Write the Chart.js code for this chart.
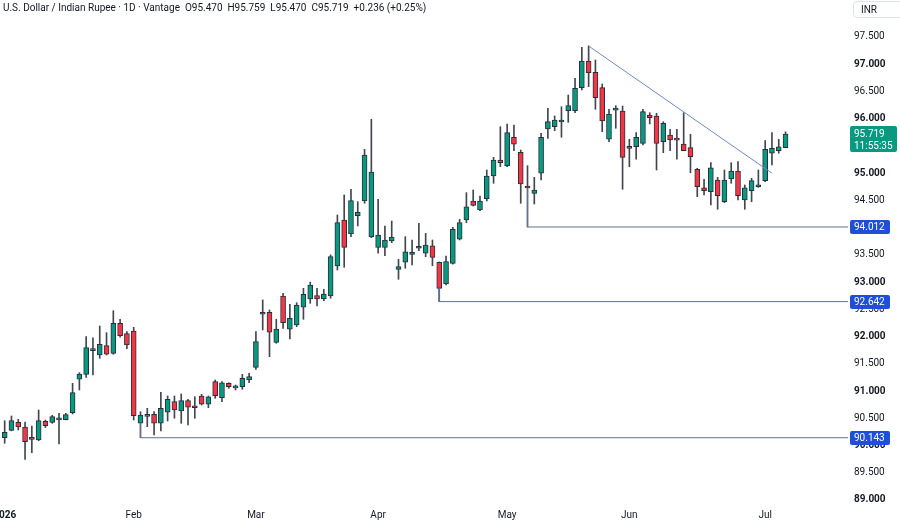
<!DOCTYPE html>
<html>
<head>
<meta charset="utf-8">
<title>USD/INR</title>
<script src="https://cdn.jsdelivr.net/npm/chart.js@4.4.0/dist/chart.umd.min.js"></script>
<style>
  html, body { margin: 0; padding: 0; background: #fff; }
  #wrap { position: relative; width: 900px; height: 522px; overflow: hidden; font-family: Roboto, "Noto Sans", sans-serif; }
  #hdr { position: absolute; left: 3px; top: 2px; font-size: 10px; color: #131722; white-space: pre; }
  #inr { position: absolute; left: 853px; top: 1px; width: 50px; height: 17px; border: 1px solid #e0e3eb; border-radius: 4px;
         box-sizing: border-box; font-size: 10px; line-height: 15px; padding-left: 7px; color: #131722; }
</style>
</head>
<body>
<div id="wrap">
  <canvas id="chart" width="900" height="522"></canvas>
  <div id="hdr">U.S. Dollar / Indian Rupee · 1D · Vantage  O95.470  H95.759  L95.470  C95.719  +0.236 (+0.25%)</div>
  <div id="inr">INR</div>
</div>
<script>
// daily candles (bar index 0 = first visible day)
const opens = [
  90.144, 90.279, 90.426, 90.340, 90.120, 90.101, 90.445, 90.426, 90.470, 90.474,
  90.603, 91.216, 91.307, 91.741, 91.662, 91.833, 91.693, 92.244, 92.053, 92.102,
  90.408, 90.535, 90.573, 90.408, 90.610, 90.805, 90.634, 90.823, 90.700, 90.909,
  90.757, 91.172, 90.878, 91.142, 91.058, 91.080, 91.203, 91.436, 92.410, 92.446,
  91.895, 92.745, 92.134, 92.213, 92.538, 92.690, 92.751, 92.690, 92.745, 93.296,
  94.140, 93.883, 94.219, 94.489, 93.828, 93.639, 93.639, 93.755, 93.235, 93.364,
  93.508, 93.621, 93.529, 93.668, 93.364, 92.965, 93.345, 93.786, 94.140, 94.489,
  94.324, 94.531, 94.948, 95.242, 95.137, 95.659, 95.383, 94.738, 94.630, 94.998,
  95.811, 95.853, 95.940, 96.147, 96.147, 96.569, 97.059, 96.852, 96.569, 95.622,
  96.157, 96.141, 95.455, 95.486, 95.548, 96.068, 96.050, 95.578, 95.701, 95.612,
  95.536, 95.468, 95.071, 94.733, 94.660, 94.875, 94.476, 94.893, 95.040, 94.508,
  94.678, 94.750, 94.862, 95.365, 95.413, 95.470
];
const highs = [
  90.456, 90.542, 90.481, 90.432, 90.358, 90.652, 90.468, 90.555, 90.591, 90.591,
  91.142, 91.337, 91.998, 91.979, 92.194, 92.071, 92.475, 92.317, 92.090, 92.170,
  90.621, 90.683, 90.621, 90.977, 90.909, 90.909, 90.946, 90.849, 90.896, 90.940,
  90.909, 91.203, 91.172, 91.153, 91.111, 91.307, 91.326, 92.090, 92.672, 92.488,
  92.317, 92.795, 92.593, 92.622, 92.886, 93.000, 92.886, 92.868, 93.500, 94.232,
  94.599, 94.704, 94.476, 95.438, 95.989, 94.520, 94.030, 94.122, 93.419, 93.834,
  93.773, 94.080, 93.896, 93.773, 93.370, 93.479, 94.006, 94.153, 94.642, 94.691,
  94.581, 95.058, 95.291, 95.853, 95.903, 95.884, 95.425, 95.137, 94.924, 95.732,
  96.191, 96.050, 96.220, 96.435, 96.742, 97.311, 97.335, 97.078, 96.637, 96.173,
  96.239, 96.233, 95.622, 95.743, 96.173, 96.110, 96.099, 95.945, 95.805, 95.805,
  96.110, 95.714, 95.090, 94.888, 95.192, 94.924, 95.058, 95.192, 95.211, 94.783,
  94.906, 95.058, 95.596, 95.743, 95.622, 95.759
];
const lows = [
  90.041, 90.270, 90.285, 89.747, 89.868, 90.088, 90.330, 90.408, 90.028, 90.470,
  90.578, 91.019, 91.252, 91.295, 91.601, 91.662, 91.675, 91.987, 91.778, 90.468,
  90.143, 90.346, 90.193, 90.267, 90.450, 90.500, 90.408, 90.377, 90.500, 90.744,
  90.694, 90.867, 90.805, 91.050, 91.019, 91.032, 91.153, 91.399, 92.121, 91.631,
  91.877, 92.152, 91.956, 92.182, 92.317, 92.611, 92.561, 92.659, 92.703, 93.222,
  93.272, 93.834, 94.030, 94.447, 93.816, 93.529, 93.485, 93.724, 93.052, 93.254,
  93.314, 93.577, 93.467, 93.300, 92.642, 92.947, 93.330, 93.773, 94.091, 94.397,
  94.311, 94.489, 94.814, 95.119, 95.119, 95.413, 94.447, 94.012, 94.434, 94.875,
  95.640, 95.780, 95.659, 95.934, 96.110, 96.527, 96.588, 96.173, 95.761, 95.578,
  95.824, 94.704, 95.119, 95.255, 95.517, 95.903, 95.058, 95.376, 95.413, 95.255,
  95.413, 95.009, 94.568, 94.599, 94.416, 94.337, 94.458, 94.814, 94.508, 94.337,
  94.476, 94.740, 94.843, 95.150, 95.365, 95.470
];
const closes = [
  90.243, 90.456, 90.340, 90.070, 90.114, 90.456, 90.364, 90.529, 90.478, 90.566,
  90.970, 91.313, 91.796, 91.772, 91.858, 91.675, 92.244, 92.016, 91.845, 90.547,
  90.560, 90.542, 90.408, 90.683, 90.849, 90.652, 90.823, 90.702, 90.694, 90.757,
  90.896, 90.915, 91.153, 91.080, 91.064, 91.234, 91.264, 91.906, 92.418, 92.079,
  92.139, 92.255, 92.336, 92.580, 92.776, 92.947, 92.690, 92.782, 93.467, 94.091,
  93.639, 94.495, 94.282, 95.334, 95.022, 93.865, 93.773, 93.828, 93.283, 93.558,
  93.514, 93.639, 93.681, 93.455, 92.886, 93.375, 93.970, 94.091, 94.384, 94.410,
  94.489, 94.948, 95.242, 95.193, 95.743, 95.530, 94.801, 94.728, 94.691, 95.659,
  95.945, 95.976, 95.948, 96.239, 96.558, 97.059, 96.845, 96.386, 95.958, 96.086,
  96.163, 95.291, 95.460, 95.659, 96.129, 96.018, 95.548, 95.916, 95.609, 95.606,
  95.413, 95.302, 94.752, 94.678, 95.100, 94.586, 94.875, 95.040, 94.586, 94.733,
  94.862, 94.755, 95.438, 95.457, 95.483, 95.719
];

// time axis labels (bar index of first day of each month)
const monthTickIdx = [0, 19, 37, 55, 74, 92, 112];
const monthTickText = ['2026', 'Feb', 'Mar', 'Apr', 'May', 'Jun', 'Jul'];

// price axis labels
const priceTicks = [89.0, 89.5, 90.0, 90.5, 91.0, 91.5, 92.0, 92.5, 93.0, 93.5, 94.0, 94.5, 95.0, 95.5, 96.0, 96.5, 97.0, 97.5];

// horizontal rays drawn from a candle: bar index, body end, level
const rayBars = [20, 64, 77];
const rayStart = [90.408, 92.886, 94.728];
const rayLevels = [90.143, 92.642, 94.012];

// trend line from the May top
const trendBars = [86, 113];
const trendPrices = [97.335, 95.0];

const lastPrice = 95.719;
const countdown = '11:55:35';

const X_MIN = -0.69, X_MAX = 124.2;
const UP = '#089981', DOWN = '#f23645';

const wickData = highs.map((h, i) => ({ x: i, y: [lows[i], h] }));
const bodyData = opens.map((o, i) => ({ x: i, y: [o, closes[i]] }));
const isUp = opens.map((o, i) => closes[i] >= o);

const datasets = [
  {
    type: 'bar', data: wickData, backgroundColor: '#434651',
    barThickness: 1, grouped: false, order: 3
  },
  {
    type: 'bar', data: bodyData,
    backgroundColor: ctx => isUp[ctx.dataIndex] ? UP : DOWN,
    borderColor: '#2a2e39', borderWidth: 1, borderSkipped: false,
    barThickness: 5, minBarLength: 2, grouped: false, order: 2
  }
];

rayBars.forEach((b, k) => {
  datasets.push({
    type: 'line',
    data: [{ x: b, y: rayStart[k] }, { x: b, y: rayLevels[k] }, { x: X_MAX, y: rayLevels[k] }],
    borderColor: '#5d7196', borderWidth: 1, pointRadius: 0, tension: 0, order: 1
  });
});

datasets.push({
  type: 'line',
  data: trendBars.map((b, k) => ({ x: b, y: trendPrices[k] })),
  borderColor: '#6f88c4', borderWidth: 1, pointRadius: 0, tension: 0, order: 1
});

function box(ctx, x, y, w, h, r) {
  ctx.beginPath();
  ctx.moveTo(x + r, y);
  ctx.lineTo(x + w - r, y);
  ctx.quadraticCurveTo(x + w, y, x + w, y + r);
  ctx.lineTo(x + w, y + h - r);
  ctx.quadraticCurveTo(x + w, y + h, x + w - r, y + h);
  ctx.lineTo(x + r, y + h);
  ctx.quadraticCurveTo(x, y + h, x, y + h - r);
  ctx.lineTo(x, y + r);
  ctx.quadraticCurveTo(x, y, x + r, y);
  ctx.closePath();
  ctx.fill();
}

// price tags on the right axis
const priceTags = {
  id: 'priceTags',
  afterDraw(chart) {
    const ctx = chart.ctx;
    const y = chart.scales.y;
    const x0 = chart.chartArea.right + 2;
    ctx.save();
    ctx.font = '10px Roboto';
    ctx.textBaseline = 'middle';
    ctx.textAlign = 'left';
    rayLevels.forEach(v => {
      const py = Math.round(y.getPixelForValue(v));
      ctx.fillStyle = '#1e4fd8';
      box(ctx, x0, py - 7, 40, 14, 2);
      ctx.fillStyle = '#fff';
      ctx.fillText(v.toFixed(3), x0 + 4, py + 0.5);
    });
    const py = Math.round(y.getPixelForValue(lastPrice));
    ctx.fillStyle = UP;
    box(ctx, x0, py - 8, 47, 26, 2);
    ctx.fillStyle = '#fff';
    ctx.fillText(lastPrice.toFixed(3), x0 + 4, py + 0.5);
    ctx.fillText(countdown, x0 + 4, py + 12.5);
    ctx.restore();
  }
};

new Chart(document.getElementById('chart'), {
  type: 'bar',
  data: { datasets: datasets },
  options: {
    responsive: false,
    animation: false,
    layout: { padding: 0 },
    plugins: { legend: { display: false }, tooltip: { enabled: false } },
    scales: {
      x: {
        type: 'linear', min: X_MIN, max: X_MAX, offset: false,
        grid: { display: false, drawTicks: false }, border: { display: false },
        afterBuildTicks: s => { s.ticks = monthTickIdx.map(v => ({ value: v })); },
        afterFit: s => { s.height = 17; s.paddingLeft = 0; s.paddingRight = 0; },
        ticks: {
          padding: 4, maxRotation: 0, autoSkip: false, color: '#131722',
          font: c => ({ family: 'Roboto', size: 10, weight: c.index === 0 ? 'bold' : 'normal' }),
          callback: (v, i) => monthTickText[i]
        }
      },
      y: {
        position: 'right', min: 88.908, max: 98.179,
        grid: { display: false, drawTicks: false }, border: { display: false },
        afterBuildTicks: s => { s.ticks = priceTicks.map(v => ({ value: v })); },
        afterFit: s => { s.width = 52; s.paddingTop = 0; s.paddingBottom = 0; },
        ticks: {
          padding: 6, color: '#131722',
          font: c => ({ family: 'Roboto', size: 10, weight: c.tick && Number.isInteger(c.tick.value) ? 'bold' : 'normal' }),
          callback: v => v.toFixed(3)
        }
      }
    }
  },
  plugins: [priceTags]
});
</script>
</body>
</html>
